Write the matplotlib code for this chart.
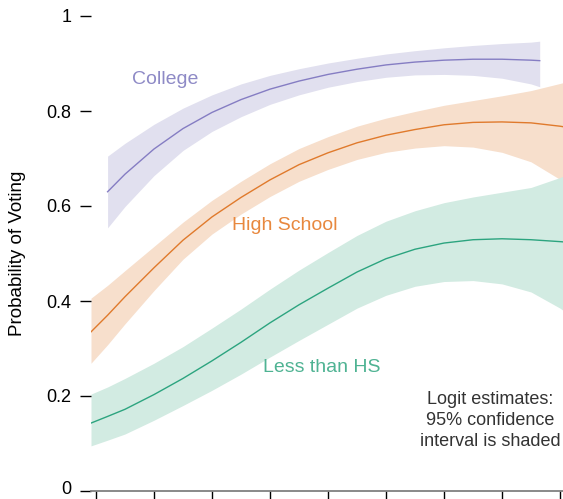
"""
投票概率随年龄变化（按教育程度分组），Logit 估计与 95% 置信区间。
输出：out.png
"""

# 导入 matplotlib，使用无显示后端。
import matplotlib
matplotlib.use("Agg")
# 导入 pyplot 用于绘图。
import matplotlib.pyplot as plt
# 导入平移变换，用于微调底部刻度文字。
from matplotlib.transforms import offset_copy

# 横轴取值（年龄）。
x_all = [19.14, 22, 25, 30, 35, 40, 45, 50, 55, 60, 65, 70, 75, 80, 85, 90, 95, 100, 101]
# College 组只覆盖 22 到 96.5。
x_college = [22, 25, 30, 35, 40, 45, 50, 55, 60, 65, 70, 75, 80, 85, 90, 95, 96.5]

# College：估计值、上界、下界。
college_fit = [0.630, 0.667, 0.720, 0.763, 0.797, 0.824, 0.846, 0.863, 0.877, 0.888,
               0.897, 0.903, 0.907, 0.909, 0.909, 0.907, 0.906]
college_hi = [0.705, 0.732, 0.772, 0.806, 0.834, 0.857, 0.875, 0.889, 0.901, 0.911,
              0.920, 0.927, 0.933, 0.938, 0.942, 0.945, 0.947]
college_lo = [0.554, 0.599, 0.664, 0.717, 0.757, 0.788, 0.814, 0.834, 0.850, 0.862,
              0.871, 0.876, 0.877, 0.875, 0.869, 0.857, 0.851]

# High School：估计值、上界、下界。
hs_fit = [0.335, 0.370, 0.409, 0.470, 0.528, 0.577, 0.618, 0.655, 0.687, 0.712,
          0.733, 0.749, 0.761, 0.771, 0.776, 0.777, 0.775, 0.768, 0.766]
hs_hi = [0.406, 0.433, 0.464, 0.515, 0.566, 0.612, 0.652, 0.689, 0.721, 0.746,
         0.768, 0.785, 0.799, 0.812, 0.822, 0.832, 0.843, 0.858, 0.861]
hs_lo = [0.269, 0.308, 0.352, 0.422, 0.488, 0.541, 0.583, 0.620, 0.652, 0.677,
         0.698, 0.713, 0.722, 0.727, 0.724, 0.713, 0.693, 0.656, 0.648]

# Less than HS：估计值、上界、下界。
lths_fit = [0.143, 0.157, 0.172, 0.203, 0.237, 0.274, 0.313, 0.354, 0.392, 0.427,
            0.461, 0.489, 0.509, 0.522, 0.529, 0.531, 0.529, 0.525, 0.524]
lths_hi = [0.204, 0.219, 0.237, 0.269, 0.304, 0.343, 0.383, 0.425, 0.465, 0.502,
           0.538, 0.568, 0.590, 0.607, 0.619, 0.629, 0.639, 0.660, 0.665]
lths_lo = [0.095, 0.107, 0.120, 0.149, 0.180, 0.212, 0.246, 0.282, 0.317, 0.351,
           0.385, 0.412, 0.431, 0.441, 0.443, 0.436, 0.419, 0.385, 0.376]

# 坐标轴刻度。
x_ticks = [20, 30, 40, 50, 60, 70, 80, 90, 100]
y_ticks = [0, 0.2, 0.4, 0.6, 0.8, 1]
y_tick_labels = ["0", "0.2", "0.4", "0.6", "0.8", "1"]

# 字体设置。
plt.rcParams["font.family"] = ["Liberation Sans", "DejaVu Sans"]

# 画布：563x499 像素。
fig = plt.figure(figsize=(5.63, 4.99), dpi=100)
# 坐标区向右、向下超出画布（原图被裁切）。
ax = fig.add_axes([91 / 563, 8 / 499, 480.6 / 563, 475 / 499])

# 三组：数据、线色、带色。
groups = [
    (x_college, college_fit, college_lo, college_hi, "#857dc3", "#e1e0ef"),
    (x_all, hs_fit, hs_lo, hs_hi, "#e07a2c", "#f7dfcc"),
    (x_all, lths_fit, lths_lo, lths_hi, "#2ca47f", "#d2ebe2"),
]
for xs, fit, lo, hi, line_c, band_c in groups:
    # 置信区间阴影。
    ax.fill_between(xs, lo, hi, color=band_c, linewidth=0, zorder=1)
    # 估计曲线。
    ax.plot(xs, fit, color=line_c, linewidth=1.0, zorder=2)

# 组名标注。
ax.text(31.9, 0.867, "College", color="#8e8ac6", fontsize=14, ha="center", va="center")
ax.text(52.6, 0.560, "High School", color="#e8883e", fontsize=14, ha="center", va="center")
ax.text(59.0, 0.259, "Less than HS", color="#4fb393", fontsize=14, ha="center", va="center")
# 说明文字。
ax.text(87.9, 0.149, "Logit estimates:\n95% confidence\ninterval is shaded",
        color="#333333", fontsize=13, ha="center", va="center", linespacing=1.3)

# 坐标范围。
ax.set_xlim(19.14, 102)
ax.set_ylim(0, 1)

# 刻度设置。
ax.set_xticks(x_ticks)
ax.set_yticks(y_ticks)
ax.set_yticklabels(y_tick_labels)
ax.tick_params(axis="y", direction="out", length=8, width=1.0, pad=6, labelsize=13,
               colors="black")
ax.tick_params(axis="x", direction="out", length=10, width=1.0, labelbottom=False,
               colors="black")

# 底部 "0" 稍微上移，避免贴到画布边缘被裁切。
zero_label = ax.get_yticklabels()[0]
zero_label.set_transform(offset_copy(zero_label.get_transform(), fig=fig, x=0, y=3,
                                     units="dots"))

# 只保留底部灰色轴线。
for side in ["top", "right", "left"]:
    ax.spines[side].set_visible(False)
ax.spines["bottom"].set_color("#808080")
ax.spines["bottom"].set_linewidth(1.3)

# 纵轴标题。
ax.set_ylabel("Probability of Voting", fontsize=13.5)
ax.yaxis.set_label_coords(-0.135, 0.5)

# 保存图像。
fig.savefig("out.png", dpi=100)
plt.close(fig)
